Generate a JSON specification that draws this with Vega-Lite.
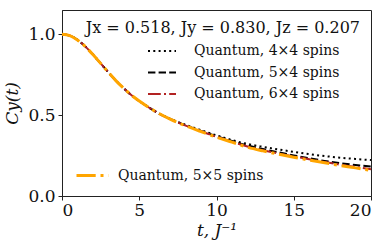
{
  "$schema": "https://vega.github.io/schema/vega-lite/v6.json",
  "width": 309,
  "height": 186,
  "autosize": "none",
  "padding": {"left": 62, "top": 10, "right": 16, "bottom": 46},
  "background": "white",
  "config": {
    "view": {"stroke": "#222", "strokeWidth": 1},
    "axis": {
      "grid": false,
      "domainColor": "#222",
      "tickColor": "#222",
      "tickSize": 4,
      "labelFont": "DejaVu Serif",
      "labelFontSize": 17,
      "labelColor": "#111",
      "titleFont": "DejaVu Serif",
      "titleFontWeight": "normal",
      "titleFontSize": 17,
      "titleColor": "#111"
    }
  },
  "title": {
    "text": "Jx = 0.518, Jy = 0.830, Jz = 0.207",
    "anchor": "end",
    "frame": "group",
    "orient": "top",
    "offset": 0,
    "baseline": "alphabetic",
    "dy": 39,
    "dx": -11,
    "font": "DejaVu Serif",
    "fontSize": 16,
    "fontWeight": "normal",
    "color": "#111"
  },
  "datasets": {
    "curves": [
      {"t": 0, "q44": 1.0, "q54": 1.0, "q64": 1.0, "q55": 1.0},
      {"t": 0.5, "q44": 0.992, "q54": 0.992, "q64": 0.992, "q55": 0.992},
      {"t": 1, "q44": 0.965, "q54": 0.965, "q64": 0.965, "q55": 0.965},
      {"t": 1.5, "q44": 0.925, "q54": 0.925, "q64": 0.925, "q55": 0.925},
      {"t": 2, "q44": 0.875, "q54": 0.875, "q64": 0.875, "q55": 0.875},
      {"t": 2.5, "q44": 0.82, "q54": 0.82, "q64": 0.82, "q55": 0.82},
      {"t": 3, "q44": 0.765, "q54": 0.765, "q64": 0.765, "q55": 0.765},
      {"t": 3.5, "q44": 0.712, "q54": 0.712, "q64": 0.712, "q55": 0.712},
      {"t": 4, "q44": 0.665, "q54": 0.665, "q64": 0.665, "q55": 0.665},
      {"t": 4.5, "q44": 0.623, "q54": 0.623, "q64": 0.623, "q55": 0.623},
      {"t": 5, "q44": 0.587, "q54": 0.587, "q64": 0.587, "q55": 0.587},
      {"t": 5.5, "q44": 0.555, "q54": 0.555, "q64": 0.555, "q55": 0.555},
      {"t": 6, "q44": 0.525, "q54": 0.525, "q64": 0.525, "q55": 0.525},
      {"t": 7, "q44": 0.477, "q54": 0.476, "q64": 0.475, "q55": 0.475},
      {"t": 8, "q44": 0.44, "q54": 0.437, "q64": 0.435, "q55": 0.434},
      {"t": 9, "q44": 0.407, "q54": 0.402, "q64": 0.4, "q55": 0.398},
      {"t": 10, "q44": 0.375, "q54": 0.37, "q64": 0.366, "q55": 0.364},
      {"t": 11, "q44": 0.346, "q54": 0.34, "q64": 0.335, "q55": 0.333},
      {"t": 12, "q44": 0.322, "q54": 0.312, "q64": 0.306, "q55": 0.302},
      {"t": 13, "q44": 0.304, "q54": 0.29, "q64": 0.283, "q55": 0.279},
      {"t": 14, "q44": 0.288, "q54": 0.27, "q64": 0.263, "q55": 0.259},
      {"t": 15, "q44": 0.273, "q54": 0.251, "q64": 0.245, "q55": 0.24},
      {"t": 16, "q44": 0.259, "q54": 0.233, "q64": 0.227, "q55": 0.222},
      {"t": 17, "q44": 0.247, "q54": 0.217, "q64": 0.21, "q55": 0.205},
      {"t": 18, "q44": 0.237, "q54": 0.203, "q64": 0.194, "q55": 0.189},
      {"t": 19, "q44": 0.229, "q54": 0.192, "q64": 0.18, "q55": 0.174},
      {"t": 20, "q44": 0.222, "q54": 0.182, "q64": 0.166, "q55": 0.158}
    ]
  },
  "layer": [
    {
      "data": {"name": "curves"},
      "transform": [{"fold": ["q44", "q54", "q64"], "as": ["series", "c"]}],
      "mark": {"type": "line", "strokeWidth": 2, "interpolate": "monotone"},
      "encoding": {
        "x": {
          "field": "t", "type": "quantitative",
          "scale": {"domain": [0, 20], "nice": false, "zero": false},
          "axis": {"values": [0, 5, 10, 15, 20], "title": "t, J⁻¹", "titleFontStyle": "italic", "labelPadding": 2, "titlePadding": 4}
        },
        "y": {
          "field": "c", "type": "quantitative",
          "scale": {"domain": [0, 1.15], "nice": false},
          "axis": {"values": [0, 0.5, 1], "format": ".1f", "title": "Cy(t)", "titleFontStyle": "italic", "labelPadding": 3, "titlePadding": 6}
        },
        "color": {
          "field": "series", "type": "nominal",
          "scale": {"domain": ["q44", "q54", "q64"], "range": ["#000000", "#000000", "#b22222"]},
          "legend": {
            "title": null, "orient": "none", "legendX": 85, "legendY": 33, "padding": 0,
            "symbolType": "M-1,0H3", "symbolSize": 196, "symbolStrokeWidth": 2,
            "labelFont": "DejaVu Serif", "labelFontSize": 14, "labelColor": "#111", "labelOffset": 31, "rowPadding": 6.5,
            "labelExpr": "datum.label == 'q44' ? 'Quantum, 4×4 spins' : datum.label == 'q54' ? 'Quantum, 5×4 spins' : 'Quantum, 6×4 spins'"
          }
        },
        "strokeDash": {
          "field": "series", "type": "nominal",
          "scale": {"domain": ["q44", "q54", "q64"], "range": [[2, 3.3], [7.4, 3.2], [12.8, 3.2, 2, 3.2]]},
          "legend": {
            "title": null, "orient": "none", "legendX": 85, "legendY": 33, "padding": 0,
            "symbolType": "M-1,0H3", "symbolSize": 196, "symbolStrokeWidth": 2,
            "labelFont": "DejaVu Serif", "labelFontSize": 14, "labelColor": "#111", "labelOffset": 31, "rowPadding": 6.5,
            "labelExpr": "datum.label == 'q44' ? 'Quantum, 4×4 spins' : datum.label == 'q54' ? 'Quantum, 5×4 spins' : 'Quantum, 6×4 spins'"
          }
        }
      }
    },
    {
      "data": {"name": "curves"},
      "transform": [{"fold": ["q55"], "as": ["series", "c"]}],
      "mark": {"type": "line", "strokeWidth": 3, "interpolate": "monotone"},
      "encoding": {
        "x": {"field": "t", "type": "quantitative"},
        "y": {"field": "c", "type": "quantitative"},
        "color": {
          "field": "series", "type": "nominal",
          "scale": {"domain": ["q55"], "range": ["#ffa500"]},
          "legend": {
            "title": null, "orient": "none", "legendX": 13, "legendY": 156, "padding": 0,
            "symbolType": "M-1,0H3", "symbolSize": 256, "symbolStrokeWidth": 3,
            "labelFont": "DejaVu Serif", "labelFontSize": 14, "labelColor": "#111", "labelOffset": 24,
            "labelExpr": "'Quantum, 5×5 spins'"
          }
        },
        "strokeDash": {
          "field": "series", "type": "nominal",
          "scale": {"domain": ["q55"], "range": [[19.2, 4.8, 3, 4.8]]},
          "legend": {
            "title": null, "orient": "none", "legendX": 13, "legendY": 156, "padding": 0,
            "symbolType": "M-1,0H3", "symbolSize": 256, "symbolStrokeWidth": 3,
            "labelFont": "DejaVu Serif", "labelFontSize": 14, "labelColor": "#111", "labelOffset": 24,
            "labelExpr": "'Quantum, 5×5 spins'"
          }
        }
      }
    }
  ],
  "resolve": {"scale": {"color": "independent", "strokeDash": "independent"}}
}
